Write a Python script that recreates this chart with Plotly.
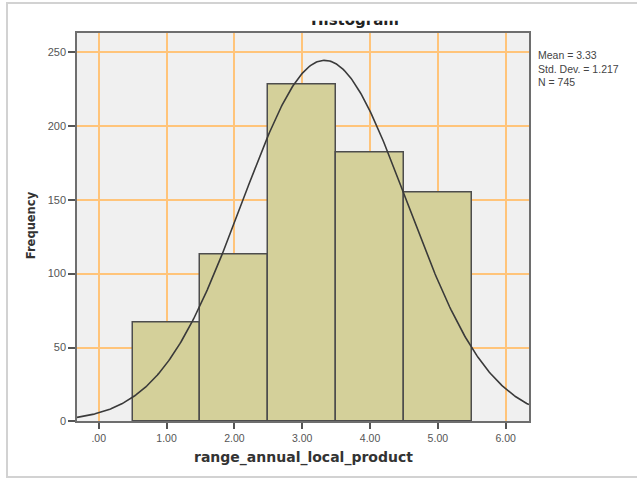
import numpy as np
import plotly.graph_objects as go

# ---- data ----
categories = [1, 2, 3, 4, 5]
frequency = [67, 113, 228, 182, 155]
x_tick_values = [0, 1, 2, 3, 4, 5, 6]
x_tick_labels = [".00", "1.00", "2.00", "3.00", "4.00", "5.00", "6.00"]
y_tick_values = [0, 50, 100, 150, 200, 250]
stat_mean = 3.33
stat_std = 1.217
stat_n = 745
bin_width = 1.0
x_title = "range_annual_local_product"
y_title = "Frequency"
chart_title = "Histogram"
stats_lines = ["Mean = 3.33", "Std. Dev. = 1.217", "N = 745"]

W, H = 637, 486


def px(x):
    return x / W


def py(y):
    return 1 - y / H


x_lo, x_hi = -0.32, 6.344
y_lo, y_hi = 0, 263

# fitted normal curve from the displayed statistics
xs = np.linspace(x_lo, x_hi, 400)
curve = stat_n * bin_width / (stat_std * np.sqrt(2 * np.pi)) * np.exp(
    -0.5 * ((xs - stat_mean) / stat_std) ** 2)

fig = go.Figure()
fig.add_trace(go.Bar(
    x=categories, y=frequency, width=bin_width,
    marker=dict(color="#D4D09A", line=dict(color="#4d4d4d", width=1.5)),
    showlegend=False, hoverinfo="skip"))
fig.add_trace(go.Scatter(
    x=xs, y=curve, mode="lines",
    line=dict(color="#3a3a3a", width=1.6),
    showlegend=False, hoverinfo="skip"))
# title placed in a thin subplot so it is clipped like the reference
fig.add_trace(go.Scatter(
    x=[0.5], y=[0.92], mode="text", text=[chart_title],
    textposition="middle center",
    textfont=dict(family="DejaVu Sans", size=15, color="#222222", weight="bold"),
    xaxis="x2", yaxis="y2", cliponaxis=True, showlegend=False, hoverinfo="skip"))

grid_col = "#FFC47A"
axis_common = dict(
    showgrid=True, gridcolor=grid_col, gridwidth=1.5,
    showline=True, linecolor="#6e6e6e", linewidth=1.5, mirror=True,
    ticks="outside", tickcolor="#555555", tickwidth=1.5,
    zeroline=False, fixedrange=True,
)

fig.update_layout(
    width=W, height=H,
    margin=dict(l=0, r=0, t=0, b=0),
    paper_bgcolor="white", plot_bgcolor="white",
    bargap=0,
    xaxis=dict(domain=[px(77), px(529)], range=[x_lo, x_hi],
               tickmode="array", tickvals=x_tick_values, ticktext=x_tick_labels,
               ticklen=6,
               tickfont=dict(family="Liberation Sans", size=10.5, color="#555555"),
               anchor="y", **axis_common),
    yaxis=dict(domain=[py(426.7), py(33)], range=[y_lo, y_hi],
               tickmode="array", tickvals=y_tick_values,
               ticklen=7,
               tickfont=dict(family="Liberation Sans", size=11, color="#555555"),
               anchor="x", **axis_common),
    xaxis2=dict(domain=[px(270), px(440)], range=[0, 1], visible=False,
                anchor="y2", fixedrange=True),
    yaxis2=dict(domain=[py(33), py(21)], range=[0, 1], visible=False,
                anchor="x2", fixedrange=True),
    shapes=[
        dict(type="rect", xref="x domain", yref="y domain", x0=0, x1=1, y0=0, y1=1,
             fillcolor="#F0F0F0", line=dict(width=0), layer="below"),
        dict(type="rect", xref="paper", yref="paper",
             x0=px(7), x1=px(660), y0=py(483), y1=py(3),
             fillcolor="rgba(0,0,0,0)", line=dict(color="#D2D2D2", width=2),
             layer="above"),
    ],
    annotations=[
        dict(text=f"<b>{x_title}</b>", x=px(303), y=py(463), xref="paper", yref="paper",
             showarrow=False, xanchor="center", yanchor="middle",
             font=dict(family="DejaVu Sans", size=14, color="#333333")),
        dict(text=f"<b>{y_title}</b>", x=px(31), y=py(228), xref="paper", yref="paper",
             showarrow=False, xanchor="center", yanchor="middle", textangle=-90,
             font=dict(family="DejaVu Sans", size=11.5, color="#333333")),
        dict(text="<br>".join(stats_lines), x=px(536), y=py(69.5),
             xref="paper", yref="paper", showarrow=False,
             xanchor="left", yanchor="middle", align="left",
             font=dict(family="Liberation Sans", size=10.5, color="#444444")),
    ],
)

fig.write_html("out.html")
